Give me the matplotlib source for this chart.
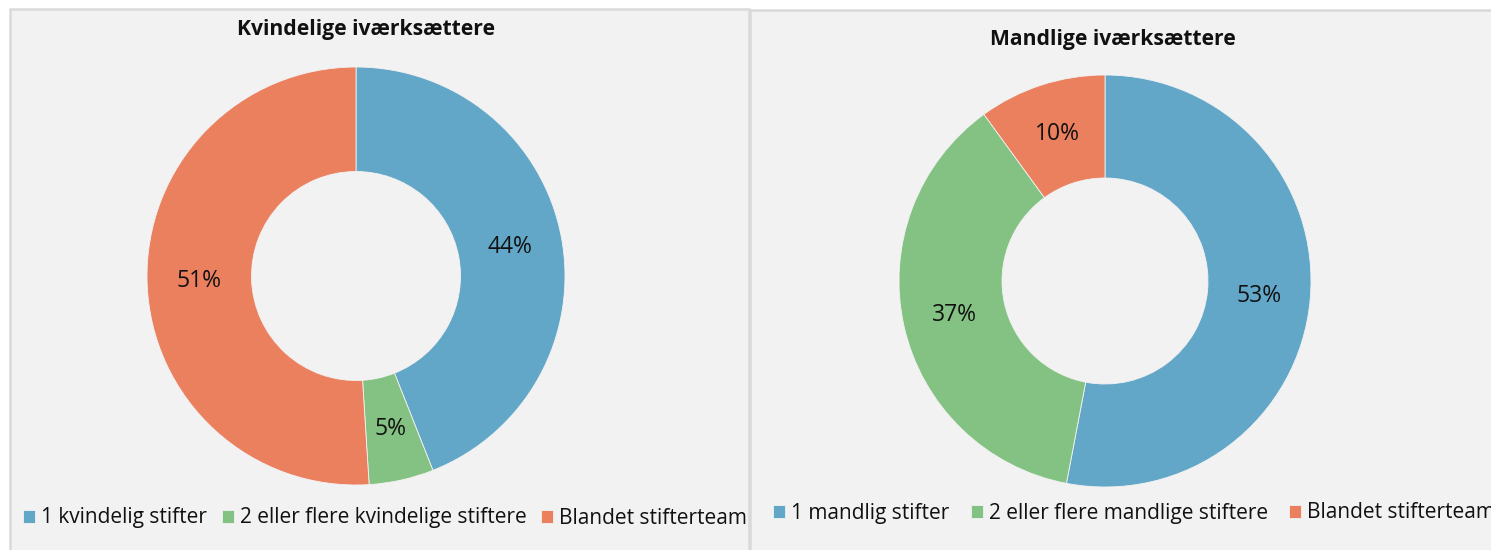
import matplotlib
matplotlib.use("Agg")
import matplotlib.pyplot as plt
from matplotlib.patches import Rectangle

W, H = 1491, 550
DPI = 100

titles = ["Kvindelige iværksættere", "Mandlige iværksættere"]
labels_f = ["1 kvindelig stifter", "2 eller flere kvindelige stiftere", "Blandet stifterteam"]
labels_m = ["1 mandlig stifter", "2 eller flere mandlige stiftere", "Blandet stifterteam"]
values_f = [44, 5, 51]
values_m = [53, 37, 10]
colors = ["#63a7c8", "#84c283", "#eb805f"]

plt.rcParams['font.family'] = ['Open Sans', 'DejaVu Sans']

fig = plt.figure(figsize=(W / DPI, H / DPI), dpi=DPI, facecolor="white")

def px_rect(x0, y0, x1, y1):
    return [x0 / W, 1 - y1 / H, (x1 - x0) / W, (y1 - y0) / H]

# panel backgrounds
for (x0, y0, x1, y1) in [(10, 9, 749, 560), (750, 10, 1500, 560)]:
    fig.patches.append(Rectangle((x0 / W, 1 - y1 / H), (x1 - x0) / W, (y1 - y0) / H,
                                 transform=fig.transFigure, facecolor="#f2f2f2",
                                 edgecolor="#d9d9d9", linewidth=1.8, zorder=-5))

panels = [
    dict(cx=356, cy=276, r=209, values=values_f, labels=labels_f, title=titles[0],
         tx=366, ty=30, legy=518, legx=23, colsp=0.7),
    dict(cx=1105, cy=281, r=206, values=values_m, labels=labels_m, title=titles[1],
         tx=1113, ty=40, legy=513, legx=773, colsp=1.02),
]

for p in panels:
    cx, cy, r = p["cx"], p["cy"], p["r"]
    ax = fig.add_axes(px_rect(cx - r, cy - r, cx + r, cy + r))
    wedges, texts, autotexts = ax.pie(
        p["values"], colors=colors, radius=1, startangle=90, counterclock=False,
        wedgeprops=dict(width=0.5, edgecolor="#f2f2f2", linewidth=0.6),
        autopct=lambda v: f"{v:.0f}%", pctdistance=0.75,
        textprops=dict(fontsize=16.5, color="#111111"))
    ax.set_xlim(-1, 1)
    ax.set_ylim(-1, 1)
    ax.set_aspect("equal")
    ax.axis("off")
    fig.text(p["tx"] / W, 1 - p["ty"] / H, p["title"], ha="center", va="center",
             fontsize=15.2, fontweight="bold", color="#111111")
    fig.legend(wedges, p["labels"], loc="center left",
               bbox_to_anchor=(p["legx"] / W, 1 - p["legy"] / H), ncol=3,
               frameon=False, fontsize=15, handlelength=0.58, handleheight=0.58,
               handletextpad=0.29, columnspacing=p["colsp"], borderaxespad=0, borderpad=0,
               labelcolor="#111111")

fig.savefig("out.png", dpi=DPI, facecolor="white")
